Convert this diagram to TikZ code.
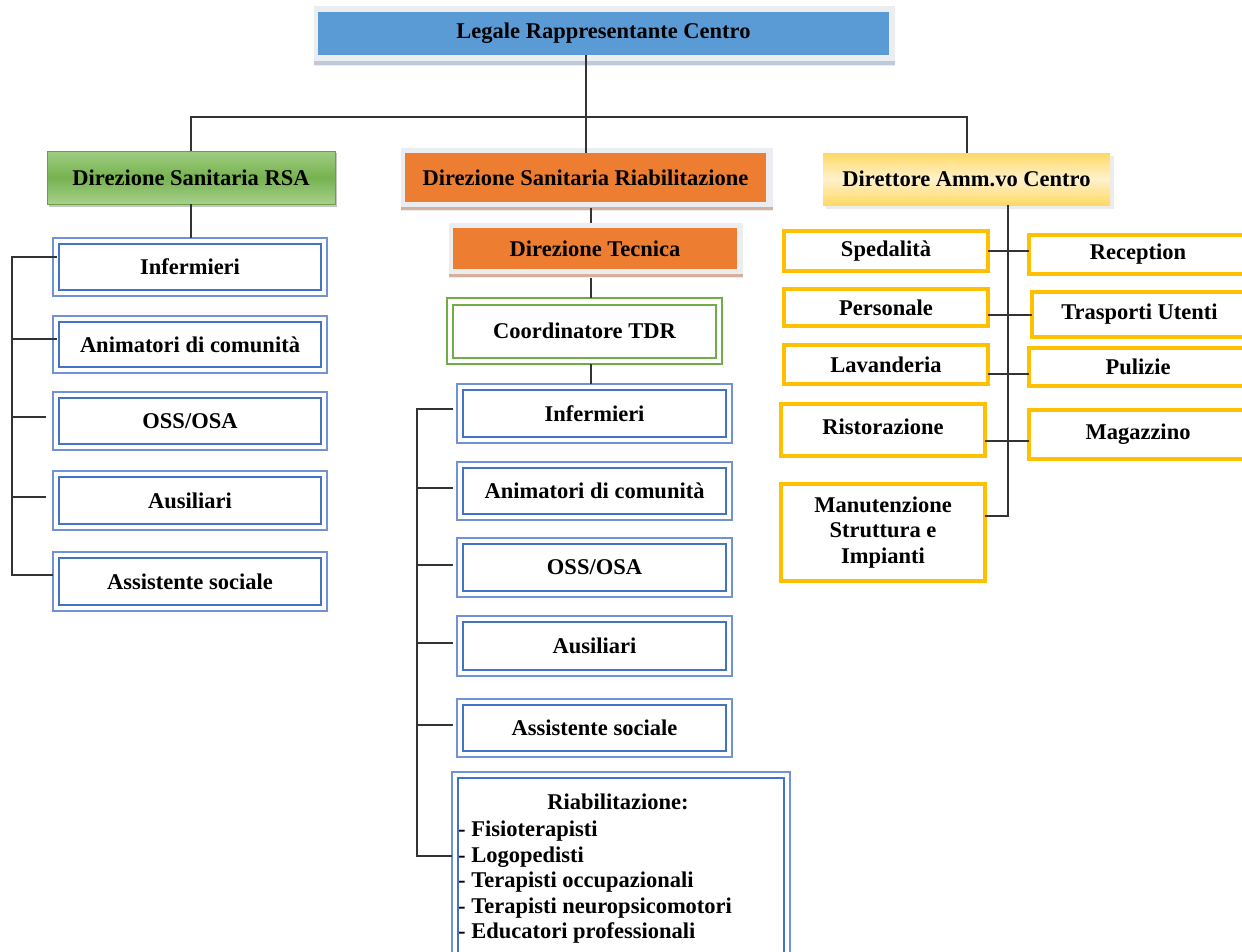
\documentclass[tikz,border=0pt]{standalone}
\usepackage{fontspec}
\setmainfont{Liberation Serif}
\usetikzlibrary{backgrounds}
\definecolor{blueF}{HTML}{5B9BD5}
\definecolor{blueO}{HTML}{6F93D6}
\definecolor{blueI}{HTML}{4472C4}
\definecolor{greenT}{HTML}{A0CD82}
\definecolor{greenM}{HTML}{76B250}
\definecolor{greenB}{HTML}{A7D08C}
\definecolor{greenE}{HTML}{6A9F4A}
\definecolor{greenO}{HTML}{70AD47}
\definecolor{orangeF}{HTML}{ED7D31}
\definecolor{orangeS}{HTML}{D6B09A}
\definecolor{yelA}{HTML}{FFD966}
\definecolor{yelL}{HTML}{FFF2CC}
\definecolor{yelB}{HTML}{FFC000}
\definecolor{shadowL}{HTML}{ECEDF1}
\definecolor{shadowB}{HTML}{BFC9DA}
\definecolor{lineC}{HTML}{333333}
\tikzset{
  txt/.style={font={\fontsize{22.5}{25.5}\selectfont\bfseries}},
  base/.style={txt, inner sep=0pt, outer sep=0pt, align=center},
  topbox/.style={base, fill=blueF},
  gbox/.style={base, top color=greenT, bottom color=greenB, middle color=greenM, draw=greenE, line width=0.8pt},
  obox/.style={base, fill=orangeF},
  ybox/.style={base, top color=yelA, bottom color=yelA, middle color=yelL},
  dbl/.style={base, draw=blueO, line width=1.1pt, fill=white},
  gdbl/.style={base, draw=greenO, line width=1.1pt, fill=white},
  dblin/.style={draw=blueI, line width=2.4pt},
  gdblin/.style={draw=greenO, line width=2.4pt},
  ybord/.style={base, draw=yelB, line width=4pt, fill=white},
  conn/.style={draw=lineC, line width=2pt},
}
\begin{document}
\begin{tikzpicture}[x=1pt,y=-1pt]
\useasboundingbox (0,0) rectangle (1242,951);

% top level
\node[topbox, minimum width=571pt, minimum height=43pt] (top) at (603.5,33.5) {Legale Rappresentante Centro};

% second level
\node[gbox, minimum width=288pt, minimum height=53pt] (rsa) at (191,177.5) {Direzione Sanitaria RSA};
\node[obox, minimum width=361pt, minimum height=49pt] (dsr) at (585.5,177.5) {Direzione Sanitaria Riabilitazione};
\node[ybox, minimum width=287pt, minimum height=52pt] (dir) at (966.5,179) {Direttore Amm.vo Centro};

% middle column
\node[obox, minimum width=284pt, minimum height=41pt] (dtec) at (595,248.5) {Direzione Tecnica};
\node[gdbl, minimum width=275pt, minimum height=66pt] (coord) at (584.5,331) {Coordinatore TDR};
\node[dbl, minimum width=275pt, minimum height=59pt] (mi1) at (594.5,413.5) {Infermieri};
\node[dbl, minimum width=275pt, minimum height=58pt] (mi2) at (594.5,491) {Animatori di comunità};
\node[dbl, minimum width=275pt, minimum height=59pt] (mi3) at (594.5,567.5) {OSS/OSA};
\node[dbl, minimum width=275pt, minimum height=60pt] (mi4) at (594.5,646) {Ausiliari};
\node[dbl, minimum width=275pt, minimum height=58pt] (mi5) at (594.5,728) {Assistente sociale};
\node[dbl, minimum width=338pt, minimum height=190pt] (riab) at (621,867) {};
\node[base] (riabT) at (618,802) {Riabilitazione:};
\node[txt, inner sep=0pt, align=left, anchor=north west] (riabL) at (458,821)
  {- Fisioterapisti\\- Logopedisti\\- Terapisti occupazionali\\- Terapisti neuropsicomotori\\- Educatori professionali};

% left column
\node[dbl, minimum width=274pt, minimum height=58pt] (li1) at (190,267) {Infermieri};
\node[dbl, minimum width=274pt, minimum height=57pt] (li2) at (190,344.5) {Animatori di comunità};
\node[dbl, minimum width=274pt, minimum height=58pt] (li3) at (190,421) {OSS/OSA};
\node[dbl, minimum width=274pt, minimum height=59pt] (li4) at (190,500.5) {Ausiliari};
\node[dbl, minimum width=274pt, minimum height=59pt] (li5) at (190,581.5) {Assistente sociale};

% right column
\node[ybord, minimum width=204pt, minimum height=40pt] (spe) at (886,251) {Spedalità};
\node[ybord, minimum width=204pt, minimum height=37pt] (per) at (886,307.5) {Personale};
\node[ybord, minimum width=204pt, minimum height=39pt] (lav) at (886,364.5) {Lavanderia};
\node[ybord, minimum width=204pt, minimum height=52pt] (ris) at (883,430) {\raisebox{7pt}{Ristorazione}};
\node[ybord, minimum width=204pt, minimum height=97pt] (man) at (883,532.5) {Manutenzione\\Struttura e\\Impianti};
\node[ybord, minimum width=218pt, minimum height=39pt] (rec) at (1138,254.5) {Reception};
\node[ybord, minimum width=215pt, minimum height=45pt] (tra) at (1139.5,314.5) {Trasporti Utenti};
\node[ybord, minimum width=218pt, minimum height=38pt] (pul) at (1138,367) {Pulizie};
\node[ybord, minimum width=218pt, minimum height=49pt] (mag) at (1138,434.5) {Magazzino};

% inner lines of double boxes
\foreach \n in {li1,li2,li3,li4,li5,mi1,mi2,mi3,mi4,mi5,riab}
  \draw[dblin] ([xshift=6pt,yshift=-6pt]\n.north west) rectangle ([xshift=-6pt,yshift=6pt]\n.south east);
\draw[gdblin] ([xshift=6pt,yshift=-7pt]coord.north west) rectangle ([xshift=-6pt,yshift=6pt]coord.south east);

% helper coordinates
\coordinate (bus) at (0,117);
\coordinate (cbus) at (591,0);
\coordinate (lbus) at (12,0);
\coordinate (mbus) at (417,0);
\coordinate (rbus) at (1008,0);

% connectors
\draw[conn] (top.south -| dsr.north) -- (dsr.north);
\draw[conn] (rsa.north) -- (rsa.north |- bus) -- (dir.north |- bus) -- (dir.north);
\draw[conn] (rsa.south) -- (rsa.south |- li1.north);
\draw[conn] ([yshift=-6pt]dsr.south -| cbus) -- ([yshift=5pt]dtec.north -| cbus);
\draw[conn] ([yshift=-9pt]dtec.south -| cbus) -- (coord.north -| cbus);
\draw[conn] (coord.south -| cbus) -- (mi1.north -| cbus);

\draw[conn] ([xshift=4pt,yshift=10pt]li1.west) -| ([yshift=7pt]li5.west -| lbus) -- ([yshift=7pt]li5.west);
\draw[conn] ([xshift=4pt,yshift=6pt]li2.west) -- ([yshift=6pt]li2.west -| lbus);
\foreach \n in {li3,li4}
  \draw[conn] ([xshift=-7pt,yshift=4pt]\n.west) -- ([yshift=4pt]\n.west -| lbus);

\draw[conn] ([xshift=-4pt,yshift=5pt]mi1.west) -| ([yshift=11pt]riab.west -| mbus) -- ([yshift=11pt]riab.west);
\foreach \n in {mi2,mi3,mi4,mi5}
  \draw[conn] ([xshift=-4pt,yshift=3pt]\n.west) -- ([yshift=3pt]\n.west -| mbus);

\draw[conn] (dir.south -| rbus) -- ([yshift=17pt]man.east -| rbus) -- ([yshift=17pt]man.east);
\draw[conn] (spe.east) -- (spe.east -| rec.west);
\draw[conn] (tra.west) -- (tra.west -| per.east);
\draw[conn] ([yshift=-7pt]pul.west) -- ([yshift=-7pt]pul.west -| lav.east);
\draw[conn] ([yshift=-6pt]mag.west) -- ([yshift=-6pt]mag.west -| ris.east);

% background and shadows
\begin{scope}[on background layer]
\fill[white] (0,0) rectangle (1242,951);
\fill[shadowL] ([xshift=-4pt,yshift=6pt]top.north west) rectangle ([xshift=6pt,yshift=-11pt]top.south east);
\fill[shadowB] ([xshift=-4pt,yshift=-6pt]top.south west) rectangle ([xshift=6pt,yshift=-10pt]top.south east);
\fill[shadowL] ([xshift=-4pt,yshift=5pt]dsr.north west) rectangle ([xshift=7pt,yshift=-9pt]dsr.south east);
\fill[orangeS] ([xshift=-4pt,yshift=-5pt]dsr.south west) rectangle ([xshift=7pt,yshift=-8pt]dsr.south east);
\fill[shadowL] ([xshift=-4pt,yshift=5pt]dtec.north west) rectangle ([xshift=6pt,yshift=-9pt]dtec.south east);
\fill[orangeS] ([xshift=-4pt,yshift=-5pt]dtec.south west) rectangle ([xshift=6pt,yshift=-8pt]dtec.south east);
\fill[gray!15] ([xshift=3pt,yshift=-3pt]dir.north west) rectangle ([xshift=4pt,yshift=-4pt]dir.south east);
\fill[gray!45] ([xshift=2pt,yshift=-2pt]rsa.north west) rectangle ([xshift=2pt,yshift=-3pt]rsa.south east);
\end{scope}
\end{tikzpicture}
\end{document}
